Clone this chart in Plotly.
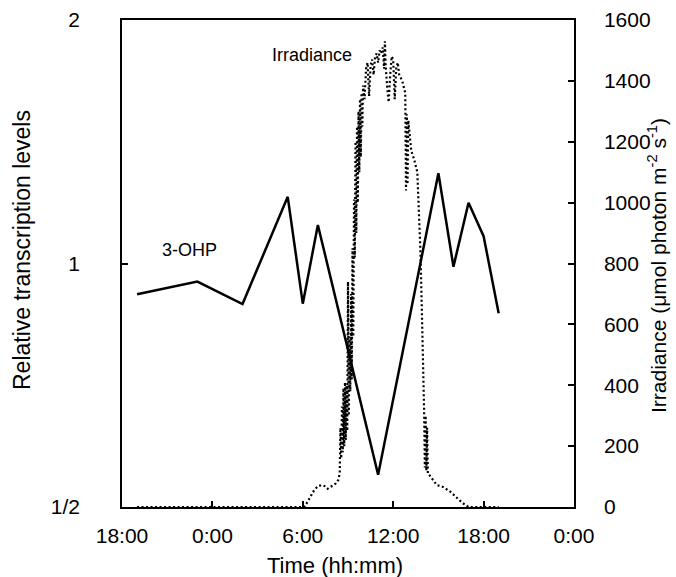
import plotly.graph_objects as go
import math

# 3-OHP relative transcription (hours from midnight; negative = previous evening)
ohp_time = [-5, -1, 2, 5, 6, 7, 11, 15, 16, 17, 18, 19]
ohp_level = [0.916, 0.950, 0.891, 1.209, 0.892, 1.116, 0.548, 1.293, 0.991, 1.189, 1.081, 0.868]

# Irradiance record (µmol photon m-2 s-1)
irr_time = [-5, -4, -3, -2, -1, 0, 1, 2, 3, 4, 5, 6.0, 6.1,
            6.25, 6.5, 6.75, 7.0, 7.25, 7.5, 7.65, 7.8, 8.0, 8.2, 8.35, 8.45,
            8.50, 8.55, 8.60, 8.65, 8.70, 8.75, 8.80, 8.85, 8.90, 8.95,
            9.00, 9.05, 9.10, 9.15, 9.20, 9.25, 9.30, 9.35, 9.40, 9.45,
            9.50, 9.55, 9.60, 9.65, 9.70, 9.75, 9.80, 9.85, 9.90, 9.95,
            10.0, 10.1, 10.2, 10.3, 10.4, 10.5, 10.6, 10.7, 10.8, 10.9,
            11.0, 11.1, 11.2, 11.3, 11.4, 11.45, 11.5, 11.6, 11.7, 11.8,
            11.9, 12.0, 12.1, 12.2, 12.3, 12.4, 12.5, 12.6, 12.7, 12.8,
            12.85, 12.9, 12.95, 13.0, 13.2, 13.4, 13.6, 13.7, 13.8, 13.9,
            14.0, 14.05, 14.1, 14.15, 14.2, 14.25, 14.3, 14.4, 14.9, 15.3,
            15.8, 16.2, 16.6, 17.0, 17.5, 18.0, 18.5, 19.0]
irr_value = [0, 0, 0, 0, 0, 0, 0, 0, 0, 0, 0, 0, 0,
             12, 35, 55, 68, 72, 68, 60, 66, 70, 78, 88, 110,
             260, 160, 330, 180, 390, 200, 410, 220, 400, 250,
             740, 300, 560, 380, 700, 420, 850, 560, 1010, 820,
             1200, 900, 1250, 1000, 1300, 1100, 1340, 1150, 1360, 1250,
             1385, 1340, 1440, 1460, 1350, 1450, 1470, 1420, 1480, 1490,
             1460, 1500, 1490, 1510, 1440, 1530, 1450, 1380, 1330, 1420,
             1480, 1470, 1340, 1440, 1460, 1420, 1410, 1400, 1380, 1360,
             1040, 1290, 1060, 1270, 1170, 1140, 1100, 1000, 850, 650,
             450, 320, 130, 300, 120, 260, 110, 105, 72, 66,
             50, 33, 13, 0, 0, 0, 0, 0]

x_ticks = [-6, 0, 6, 12, 18, 24]
x_tick_text = ["18:00", "0:00", "6:00", "12:00", "18:00", "0:00"]
y_ticks = [0.5, 1, 2]
y_tick_text = ["1/2", "1", "2"]

FONT = "Liberation Sans, Arial, sans-serif"
PLOT_L, PLOT_R, PLOT_T, PLOT_B = 122, 574, 20, 507
PLOT_W = PLOT_R - PLOT_L
PLOT_H = PLOT_B - PLOT_T


def px_x(px):
    return (px - PLOT_L) / PLOT_W


def px_y(py):
    return (PLOT_B - py) / PLOT_H


fig = go.Figure()
fig.add_trace(go.Scatter(x=ohp_time, y=ohp_level, mode="lines",
                         line=dict(color="black", width=2.5), yaxis="y",
                         showlegend=False))
fig.add_trace(go.Scatter(x=irr_time, y=irr_value, mode="lines",
                         line=dict(color="black", width=2.2, dash="2px,2.5px"),
                         yaxis="y2", showlegend=False))

annotations = [
    dict(x=-1.5, y=math.log10(1.04), xref="x", yref="y", text="3-OHP",
         showarrow=False, font=dict(size=18, color="black", family=FONT)),
    dict(x=6.6, y=1485, xref="x", yref="y2", text="Irradiance",
         showarrow=False, font=dict(size=18, color="black", family=FONT)),
    # axis titles
    dict(x=px_x(22), y=px_y(250), xref="paper", yref="paper",
         xanchor="center", yanchor="middle", textangle=-90,
         text="Relative transcription levels", showarrow=False,
         font=dict(size=23, color="black", family=FONT)),
    dict(x=px_x(657), y=px_y(266), xref="paper", yref="paper",
         xanchor="center", yanchor="middle", textangle=-90,
         text="Irradiance (μmol photon m<sup>-2</sup>\u00a0s<sup>-1</sup>)",
         showarrow=False, font=dict(size=21, color="black", family=FONT)),
    dict(x=px_x(335), y=px_y(565), xref="paper", yref="paper",
         xanchor="center", yanchor="middle", text="Time (hh:mm)",
         showarrow=False, font=dict(size=22, color="black", family=FONT)),
]

axis_common = dict(showline=True, linecolor="black", linewidth=1.5,
                   ticks="inside", ticklen=6, tickcolor="black", tickwidth=1.5,
                   showgrid=False, zeroline=False, automargin=False,
                   tickfont=dict(size=21, color="black", family=FONT))

fig.update_layout(
    width=676, height=577,
    margin=dict(l=PLOT_L, r=676 - PLOT_R, t=PLOT_T, b=577 - PLOT_B),
    paper_bgcolor="white", plot_bgcolor="white",
    font=dict(family=FONT, color="black", size=21),
    annotations=annotations,
    xaxis=dict(range=[-6, 24], tickvals=x_ticks, ticktext=x_tick_text,
               mirror=True, ticklabelstandoff=9, **axis_common),
    yaxis=dict(type="log", range=[math.log10(0.5), math.log10(2)],
               tickvals=y_ticks, ticktext=y_tick_text,
               ticklabelstandoff=36, **axis_common),
    yaxis2=dict(overlaying="y", side="right", range=[0, 1600], dtick=200,
                ticklabelstandoff=24, **axis_common),
)

fig.write_html("out.html")
